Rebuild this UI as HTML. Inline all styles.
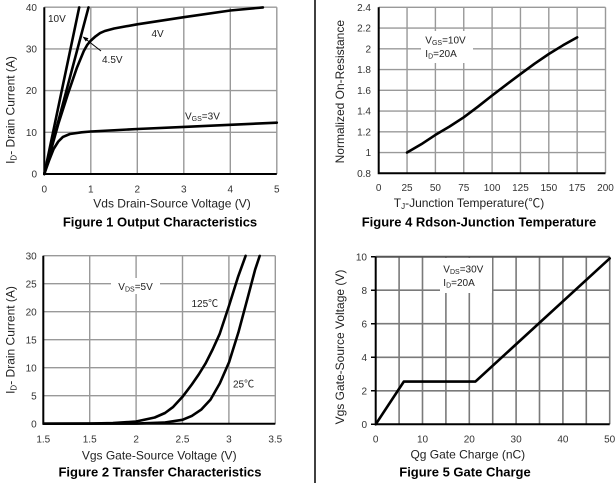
<!DOCTYPE html>
<html>
<head>
<meta charset="utf-8">
<style>
html,body{margin:0;padding:0;background:#fff;}
svg{display:block;}
text{font-family:"Liberation Sans",Arial,"Noto Sans CJK SC",sans-serif;}
.tk{font-size:10px;fill:#333;}
.ax{font-size:12px;fill:#222;}
.ft{font-size:13px;font-weight:bold;fill:#000;}
.an{font-size:10px;fill:#222;}
.g1{stroke:#999;stroke-width:1.4;fill:none;}
.g2{stroke:#7a7a7a;stroke-width:1.6;fill:none;}
.axl{stroke:#000;stroke-width:2;fill:none;}
.cv{stroke:#000;stroke-width:2.6;fill:none;stroke-linejoin:round;stroke-linecap:round;}
</style>
</head>
<body>
<svg width="616" height="483" viewBox="0 0 616 483" xmlns="http://www.w3.org/2000/svg">
<rect width="616" height="483" fill="#fff"/>
<!-- divider -->
<line x1="315" y1="0" x2="315" y2="483" stroke="#111" stroke-width="1.6"/>

<!-- ============ Figure 1 ============ -->
<g>
<path class="g1" d="M90.8 7.2V174M137.3 7.2V174M183.8 7.2V174M230.3 7.2V174M276.8 7.2V174M44.3 132.3H276.8M44.3 90.6H276.8M44.3 48.9H276.8M44.3 7.2H276.8"/>
<path class="axl" d="M44.3 7.2V174H276.8"/>
<g class="tk" text-anchor="end">
<text x="37" y="177.6">0</text>
<text x="37" y="135.9">10</text>
<text x="37" y="94.2">20</text>
<text x="37" y="52.5">30</text>
<text x="37" y="10.8">40</text>
</g>
<g class="tk" text-anchor="middle">
<text x="44.3" y="192.3">0</text>
<text x="90.8" y="192.3">1</text>
<text x="137.3" y="192.3">2</text>
<text x="183.8" y="192.3">3</text>
<text x="230.3" y="192.3">4</text>
<text x="276.8" y="192.3">5</text>
</g>
<!-- curves -->
<polyline class="cv" points="44.3,174 79.2,7.4"/>
<polyline class="cv" points="44.3,174 88.5,7.4"/>
<polyline class="cv" points="44.3,174 58.3,124 67.6,94.8 76.9,67.7 83.8,51 87.1,45.1 90.8,40.6 95.5,36.4 100.1,33.1 104.8,31 114.1,28.5 137.3,24.3 183.8,17.2 230.3,10.5 262.9,7.4"/>
<polyline class="cv" points="44.3,174 49,160.7 53.6,149 58.3,141.5 62.9,136.9 69.9,134 81.5,132.3 90.8,131.5 137.3,129 183.8,126.9 230.3,124.8 276.8,122.7"/>
<!-- annotations -->
<text class="an" x="48" y="21.8">10V</text>
<text class="an" x="151.5" y="37">4V</text>
<text class="an" x="102" y="63">4.5V</text>
<line x1="101" y1="51" x2="85" y2="38.5" stroke="#000" stroke-width="1"/>
<polygon points="82.5,36.5 88.5,38.3 85.8,41.5" fill="#000"/>
<text class="an" x="185" y="119.5">V<tspan font-size="7" dy="1.5">GS</tspan><tspan dy="-1.5">=3V</tspan></text>
<text class="ax" text-anchor="middle" x="172" y="207.3">Vds Drain-Source Voltage (V)</text>
<text class="ft" text-anchor="middle" x="160" y="226.5">Figure 1 Output Characteristics</text>
<text class="ax" text-anchor="middle" transform="translate(14.3,110) rotate(-90)">I<tspan font-size="8" dy="2">D</tspan><tspan dy="-2">- Drain Current (A)</tspan></text>
</g>

<!-- ============ Figure 4 ============ -->
<g>
<path class="g1" d="M407.05 7.3V173.3M435.4 7.3V173.3M463.75 7.3V173.3M492.1 7.3V173.3M520.45 7.3V173.3M548.8 7.3V173.3M577.15 7.3V173.3M605.5 7.3V173.3M378.7 152.55H605.5M378.7 131.8H605.5M378.7 111.05H605.5M378.7 90.3H605.5M378.7 69.55H605.5M378.7 48.8H605.5M378.7 28.05H605.5M378.7 7.3H605.5"/>
<rect x="421" y="31" width="52" height="32" fill="#fff"/>
<path class="axl" d="M378.7 7.3V173.3H605.5"/>
<g class="tk" text-anchor="end">
<text x="371" y="10.9">2.4</text>
<text x="371" y="31.65">2.2</text>
<text x="371" y="52.4">2</text>
<text x="371" y="73.15">1.8</text>
<text x="371" y="93.9">1.6</text>
<text x="371" y="114.65">1.4</text>
<text x="371" y="135.4">1.2</text>
<text x="371" y="156.15">1</text>
<text x="371" y="176.9">0.8</text>
</g>
<g class="tk" text-anchor="middle">
<text x="378.7" y="191">0</text>
<text x="407.05" y="191">25</text>
<text x="435.4" y="191">50</text>
<text x="463.75" y="191">75</text>
<text x="492.1" y="191">100</text>
<text x="520.45" y="191">125</text>
<text x="548.8" y="191">150</text>
<text x="577.15" y="191">175</text>
<text x="605.5" y="191">200</text>
</g>
<polyline class="cv" stroke-width="3" points="407.05,152.55 421.2,144.3 435.4,134.9 449.6,126.5 463.75,117.3 477.9,106.7 492.1,95.5 506.3,84.7 520.45,74.1 534.6,63.7 548.8,54 563,45.3 577.15,37.4"/>
<text class="an" x="425.3" y="43.5">V<tspan font-size="7" dy="1.5">GS</tspan><tspan dy="-1.5">=10V</tspan></text>
<text class="an" x="425.3" y="57">I<tspan font-size="7" dy="1.5">D</tspan><tspan dy="-1.5">=20A</tspan></text>
<text class="ax" text-anchor="middle" x="469" y="207">T<tspan font-size="8" dy="2">J</tspan><tspan dy="-2">-Junction Temperature(℃)</tspan></text>
<text class="ft" text-anchor="middle" x="479" y="226.5">Figure 4 Rdson-Junction Temperature</text>
<text class="ax" text-anchor="middle" transform="translate(344,91.7) rotate(-90)">Normalized On-Resistance</text>
</g>

<!-- ============ Figure 2 ============ -->
<g>
<path class="g1" d="M89.7 255.7V423.7M136.1 255.7V423.7M182.5 255.7V423.7M228.9 255.7V423.7M275.3 255.7V423.7M43.3 395.7H275.3M43.3 367.7H275.3M43.3 339.7H275.3M43.3 311.7H275.3M43.3 283.7H275.3M43.3 255.7H275.3"/>
<rect x="111" y="278" width="49" height="16" fill="#fff"/>
<path class="axl" d="M43.3 255.7V423.7H275.3"/>
<g class="tk" text-anchor="end">
<text x="36.7" y="427.3">0</text>
<text x="36.7" y="399.3">5</text>
<text x="36.7" y="371.3">10</text>
<text x="36.7" y="343.3">15</text>
<text x="36.7" y="315.3">20</text>
<text x="36.7" y="287.3">25</text>
<text x="36.7" y="259.3">30</text>
</g>
<g class="tk" text-anchor="middle">
<text x="43.3" y="442.6">1.5</text>
<text x="89.7" y="442.6">1.5</text>
<text x="136.1" y="442.6">2</text>
<text x="182.5" y="442.6">2.5</text>
<text x="228.9" y="442.6">3</text>
<text x="275.3" y="442.6">3.5</text>
</g>
<polyline class="cv" points="44,423.7 89.7,423.6 112.9,423.1 136.1,421.5 154.7,417.5 165,413 173.2,406.9 182.5,396.8 191.8,384.5 198.7,374.5 205.7,363.2 212.6,349.5 219.6,334.1 228.9,306.1 238.2,276.4 245.6,255.9"/>
<polyline class="cv" points="44,423.7 136.1,423.6 163.9,422.6 182.5,419.8 191.8,415.9 201.1,409.7 210.5,399.6 219.8,383.4 229.1,362.1 238.4,332.4 247.7,297.7 255.1,269.7 259.7,255.9"/>
<text class="an" x="118.3" y="290">V<tspan font-size="7" dy="1.5">DS</tspan><tspan dy="-1.5">=5V</tspan></text>
<text class="an" x="191.5" y="307">125℃</text>
<text class="an" x="233" y="387.5">25℃</text>
<text class="ax" text-anchor="middle" x="159.2" y="459.3">Vgs Gate-Source Voltage (V)</text>
<text class="ft" text-anchor="middle" x="160" y="476.4">Figure 2 Transfer Characteristics</text>
<text class="ax" text-anchor="middle" transform="translate(14.3,340) rotate(-90)">I<tspan font-size="8" dy="2">D</tspan><tspan dy="-2">- Drain Current (A)</tspan></text>
</g>

<!-- ============ Figure 5 ============ -->
<g>
<path class="g2" d="M399.1 256.7V424.3M422.5 256.7V424.3M445.9 256.7V424.3M469.3 256.7V424.3M492.7 256.7V424.3M516.1 256.7V424.3M539.5 256.7V424.3M562.9 256.7V424.3M586.3 256.7V424.3M609.7 256.7V424.3M375.7 390.8H609.7M375.7 357.3H609.7M375.7 323.7H609.7M375.7 290.2H609.7"/>
<rect x="440" y="258" width="52" height="35" fill="#fff"/>
<path d="M375.7 256.7H609.7" stroke="#555" stroke-width="2" fill="none"/>
<path class="axl" d="M375.7 256.7V424.3H609.7"/>
<path d="M371 256.7H375.7M371 290.2H375.7M371 323.7H375.7M371 357.3H375.7M371 390.8H375.7M371 424.3H375.7" stroke="#000" stroke-width="1.5"/>
<g class="tk" text-anchor="end">
<text x="367" y="427.9">0</text>
<text x="367" y="394.4">2</text>
<text x="367" y="360.9">4</text>
<text x="367" y="327.3">6</text>
<text x="367" y="293.8">8</text>
<text x="367" y="260.3">10</text>
</g>
<g class="tk" text-anchor="middle">
<text x="375.7" y="442.6">0</text>
<text x="422.5" y="442.6">10</text>
<text x="469.3" y="442.6">20</text>
<text x="516.1" y="442.6">30</text>
<text x="562.9" y="442.6">40</text>
<text x="609.7" y="442.6">50</text>
</g>
<polyline class="cv" points="375.7,424.3 403.8,381.6 475.4,381.6 609.7,258.4"/>
<text class="an" x="443.3" y="272.5">V<tspan font-size="7" dy="1.5">DS</tspan><tspan dy="-1.5">=30V</tspan></text>
<text class="an" x="443.3" y="286">I<tspan font-size="7" dy="1.5">D</tspan><tspan dy="-1.5">=20A</tspan></text>
<text class="ax" text-anchor="middle" x="467.8" y="458.6">Qg Gate Charge (nC)</text>
<text class="ft" text-anchor="middle" x="465" y="476.4">Figure 5 Gate Charge</text>
<text class="ax" text-anchor="middle" transform="translate(344,347) rotate(-90)">Vgs Gate-Source Voltage (V)</text>
</g>
</svg>
</body>
</html>
